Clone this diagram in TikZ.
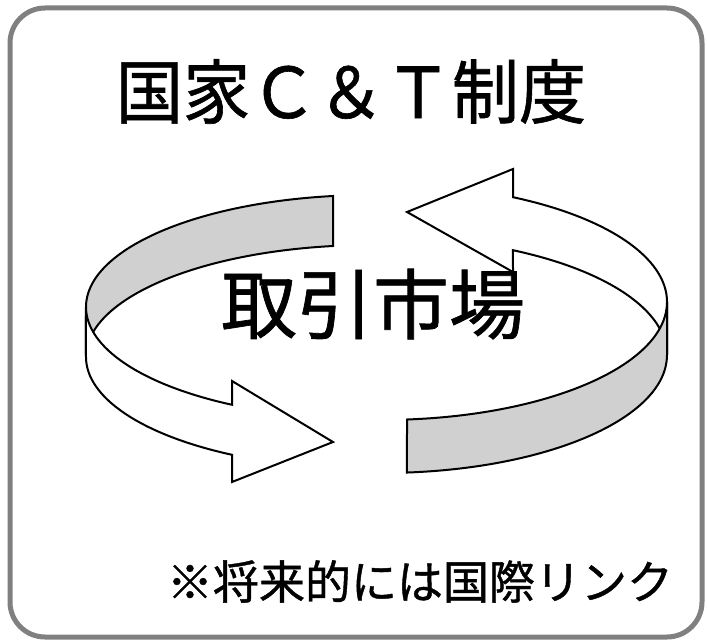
\documentclass[tikz,border=0pt]{standalone}
\usepackage{fontspec}
\setmainfont{Noto Sans CJK JP}[FakeBold=0.9]
\definecolor{bandgray}{RGB}{208,208,208}
\definecolor{framegray}{RGB}{128,128,128}
\begin{document}
\begin{tikzpicture}[x=1pt,y=-1pt,
  band/.style={draw=black, line width=2pt, line join=miter},
  lab/.style={inner sep=0pt, anchor=base, text=black}]
\useasboundingbox (0,0) rectangle (707,642);
\fill[white] (0,0) rectangle (707,642);
% frame
\draw[framegray, line width=5pt, rounded corners=35pt] (10,8) rectangle (702,637);
% left arrow: back (grey) band
\draw[band, fill=bandgray] (333,196) arc[start angle=262.34, end angle=180, x radius=285, y radius=112]
  -- (86,357) arc[start angle=180, end angle=262.34, x radius=285, y radius=112] -- cycle;
% left arrow: front (white) band with head
\draw[band, fill=white] (86,307) arc[start angle=180, end angle=119.19, x radius=285, y radius=112]
  -- (232,381) -- (333,442) -- (232,482) -- (232,454.8)
  arc[start angle=119.19, end angle=180, x radius=285, y radius=112] -- cycle;
% right arrow: back (white) band with head
\draw[band, fill=white] (513,197.2) arc[start angle=297.36, end angle=360, x radius=285, y radius=118]
  -- (667,355) arc[start angle=360, end angle=297.36, x radius=285, y radius=118]
  -- (513,272) -- (407,212) -- (513,169) -- cycle;
% right arrow: front (grey) band
\draw[band, fill=bandgray] (407,419.5) arc[start angle=84.97, end angle=0, x radius=285, y radius=118]
  -- (667,355) arc[start angle=0, end angle=84.97, x radius=285, y radius=118] -- cycle;
% texts
\node[lab] (title) at (351,118) {\fontsize{70}{80}\selectfont\scalebox{0.96}[1]{国家Ｃ＆Ｔ制度}};
\node[lab] (market) at (373,333) {\fontsize{76}{86}\selectfont 取引市場};
\node[lab] (note) at (420,599) {\fontsize{46}{54}\selectfont ※将来的には国際リンク};
\end{tikzpicture}
\end{document}
